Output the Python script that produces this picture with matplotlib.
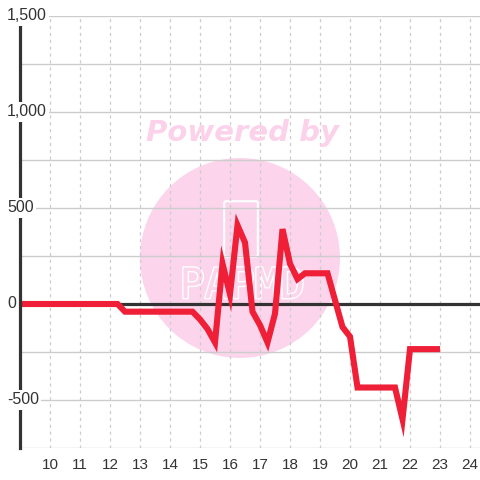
import matplotlib
matplotlib.use("Agg")
import matplotlib.pyplot as plt
import matplotlib.patheffects as pe
from matplotlib.patches import Ellipse, FancyBboxPatch

plt.rcParams["font.family"] = ["Liberation Sans", "DejaVu Sans"]

# ── Data (quarter-hour steps) ────────────────────────────────────────────────
hours = [9 + 0.25 * i for i in range(57)]          # 9.00 … 23.00
values = (
    [0] * 14                                        # 9.00 – 12.25
    + [-40] * 10                                    # 12.50 – 14.75
    + [-80, -130, -200, 210, 50, 410, 320, -40,     # 15.00 – 16.75
       -110, -200, -50, 390, 210, 130, 160, 160,    # 17.00 – 18.75
       160, 160, 20, -120, -170, -435]              # 19.00 – 20.25
    + [-435] * 5                                    # 20.50 – 21.50
    + [-600, -235]                                  # 21.75 – 22.00
    + [-235] * 4                                    # 22.25 – 23.00
)

y_ticks = [-500, 0, 500, 1000, 1500]
y_tick_labels = ["-500", "0", "500", "1,000", "1,500"]
y_grid = [-750, -500, -250, 0, 250, 500, 750, 1000, 1250, 1500]
x_ticks = list(range(10, 25))

# ── Figure ───────────────────────────────────────────────────────────────────
W = H = 480
fig = plt.figure(figsize=(W / 100, H / 100), dpi=100)
ax = fig.add_axes([20 / W, 32 / H, 460 / W, 432 / H])
ax.set_xlim(9, 24.333)
ax.set_ylim(-750, 1500)

for s in ["top", "right", "bottom"]:
    ax.spines[s].set_visible(False)
ax.spines["left"].set_color("#333333")
ax.spines["left"].set_linewidth(2.3)
ax.spines["left"].set_zorder(4)

# watermark
ax.add_patch(Ellipse((220 / 460, 190 / 432), 200 / 460, 200 / 432,
                     transform=ax.transAxes, color="#fcd5ec", zorder=0, lw=0))
ax.add_patch(FancyBboxPatch((206 / 460, 193 / 432), 30 / 460, 52 / 432,
                            boxstyle="round,pad=0.004", transform=ax.transAxes,
                            fill=False, ec="white", lw=1.5, zorder=0.5))
ax.text(222 / 460, 162 / 432, "PAPMD", transform=ax.transAxes,
        ha="center", va="center", fontsize=30, color="#fcd5ec",
        family="DejaVu Sans Mono", zorder=0.5,
        path_effects=[pe.Stroke(linewidth=2, foreground="white"), pe.Normal()])
fig.text(242 / W, 1 - 133 / H, "Powered by", ha="center", va="center",
         fontsize=21, fontweight="bold", fontstyle="italic",
         family="DejaVu Sans", color="#fcd2ea", zorder=0)

# grid
for g in y_grid:
    ax.axhline(g, color="#cccccc", lw=1.0, zorder=1)
for xt in x_ticks:
    ax.axvline(xt, color="#cccccc", lw=0.9, ls=(0, (2.5, 3)), zorder=1)
ax.axhline(0, color="#333333", lw=2.3, zorder=2)

ax.plot(hours, values, color="#ee1f36", lw=4.4, zorder=3,
        solid_joinstyle="miter", solid_capstyle="butt")

# ticks
ax.set_yticks([])
ax.set_xticks(x_ticks)
ax.set_xticklabels([str(x) for x in x_ticks], fontsize=11, color="#333333")
ax.tick_params(axis="x", length=0, pad=7)

for yv, lab in zip(y_ticks, y_tick_labels):
    ax.text(-13 / 460, yv, lab,
            transform=ax.get_yaxis_transform(), ha="left", va="center",
            fontsize=11.5, color="#333333", zorder=6, clip_on=False,
            bbox=dict(facecolor="white", edgecolor="none", pad=1.5))

fig.savefig("out.png", dpi=100)
